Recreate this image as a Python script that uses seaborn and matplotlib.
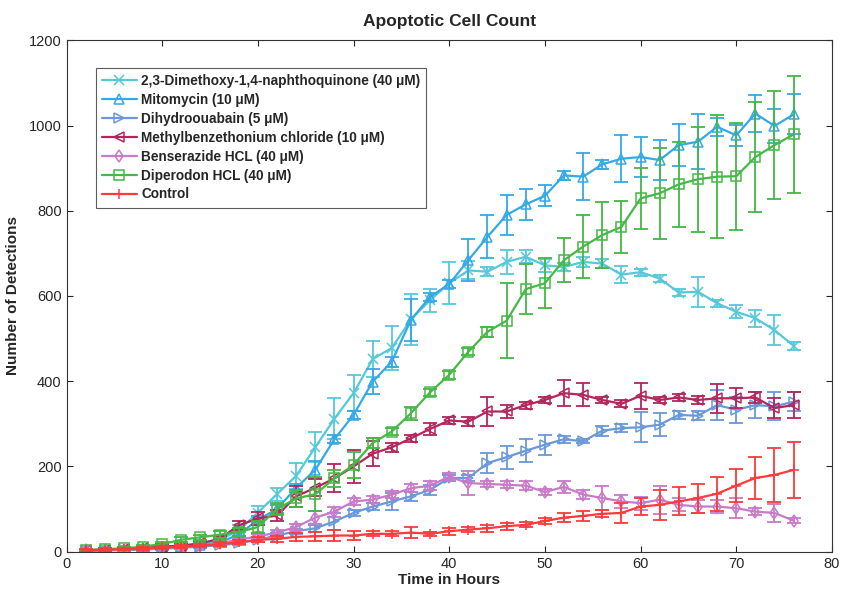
import matplotlib
matplotlib.use("Agg")
import matplotlib.pyplot as plt
import pandas as pd
import seaborn as sns

# Time points (hours)
hours = [2, 4, 6, 8, 10, 12, 14, 16, 18, 20, 22, 24, 26, 28, 30, 32, 34, 36, 38,
         40, 42, 44, 46, 48, 50, 52, 54, 56, 58, 60, 62, 64, 66, 68, 70, 72, 74, 76]

# Mean detections and error half-widths
dimethoxy = [3, 5, 6, 8, 12, 14, 18, 28, 50, 92, 135, 178, 245, 312, 372, 452, 478, 545, 590,
             630, 660, 657, 680, 692, 672, 668, 680, 676, 650, 656, 641, 608, 610, 583, 563, 548, 520, 483]
dimethoxy_err = [3, 3, 3, 3, 4, 5, 6, 8, 12, 15, 15, 30, 35, 48, 43, 43, 51, 60, 27,
                 49, 21, 10, 29, 15, 15, 10, 12, 10, 20, 8, 8, 8, 35, 8, 15, 20, 35, 10]

mitomycin = [2, 4, 5, 7, 10, 12, 15, 22, 40, 75, 100, 150, 192, 264, 321, 399, 446, 544, 598,
             628, 684, 739, 790, 815, 835, 883, 880, 909, 922, 926, 919, 954, 962, 997, 977, 1028, 999, 1026]
mitomycin_err = [3, 3, 3, 3, 3, 4, 5, 6, 6, 8, 10, 10, 20, 10, 10, 29, 12, 49, 10,
                 10, 49, 50, 48, 37, 25, 10, 55, 10, 55, 46, 47, 49, 65, 21, 25, 43, 40, 47]

dihydro = [2, 3, 4, 5, 7, 9, 12, 15, 20, 28, 38, 48, 55, 71, 91, 106, 118, 130, 145,
           173, 173, 208, 222, 237, 251, 264, 259, 284, 290, 292, 298, 321, 319, 344, 333, 344, 341, 352]
dihydro_err = [3, 3, 3, 3, 3, 3, 3, 4, 4, 5, 6, 6, 8, 20, 8, 8, 20, 10, 12,
               8, 8, 23, 27, 27, 23, 8, 5, 12, 10, 35, 27, 10, 10, 35, 31, 31, 33, 22]

methyl = [3, 5, 7, 9, 12, 14, 20, 30, 62, 78, 85, 130, 150, 172, 200, 230, 245, 266, 288,
          308, 305, 329, 329, 344, 356, 372, 368, 356, 347, 366, 356, 362, 356, 360, 360, 362, 337, 344]
methyl_err = [3, 3, 4, 4, 5, 5, 6, 8, 10, 15, 12, 25, 20, 33, 39, 29, 10, 8, 14,
              8, 10, 35, 16, 8, 8, 31, 27, 8, 8, 30, 8, 8, 10, 34, 23, 12, 23, 30]

benser = [3, 4, 5, 7, 9, 11, 14, 20, 28, 36, 45, 58, 80, 94, 118, 122, 134, 149, 155,
          176, 161, 159, 157, 155, 140, 152, 134, 126, 118, 114, 122, 110, 106, 106, 102, 94, 91, 73]
benser_err = [3, 3, 3, 3, 3, 3, 4, 4, 5, 6, 6, 8, 15, 12, 8, 8, 8, 10, 10,
              8, 29, 8, 8, 10, 8, 15, 10, 29, 15, 15, 33, 15, 15, 15, 23, 8, 21, 5]

diperodon = [4, 6, 8, 12, 18, 28, 34, 40, 46, 58, 100, 125, 135, 172, 204, 255, 282, 325, 374,
             415, 469, 516, 542, 616, 630, 684, 716, 743, 762, 829, 841, 862, 874, 880, 881, 926, 954, 979]
diperodon_err = [3, 3, 4, 4, 5, 6, 6, 8, 10, 15, 15, 20, 40, 20, 31, 12, 8, 15, 8,
                 10, 8, 12, 88, 59, 59, 51, 74, 78, 62, 72, 107, 100, 123, 145, 125, 129, 126, 138]

control = [3, 5, 6, 8, 10, 12, 14, 18, 22, 28, 30, 35, 36, 38, 38, 42, 42, 45, 42,
           48, 52, 55, 60, 63, 72, 80, 84, 89, 91, 106, 110, 118, 126, 136, 155, 173, 180, 192]
control_err = [3, 3, 3, 3, 4, 4, 4, 5, 5, 6, 8, 10, 10, 12, 10, 6, 6, 12, 5,
               8, 6, 8, 8, 6, 8, 11, 12, 8, 23, 20, 35, 33, 34, 40, 39, 50, 64, 66]

labels = [
    "2,3-Dimethoxy-1,4-naphthoquinone (40 \u03bcM)",
    "Mitomycin (10 \u03bcM)",
    "Dihydroouabain (5 \u03bcM)",
    "Methylbenzethonium chloride (10 \u03bcM)",
    "Benserazide HCL (40 \u03bcM)",
    "Diperodon HCL (40 \u03bcM)",
    "Control",
]
means = [dimethoxy, mitomycin, dihydro, methyl, benser, diperodon, control]
errors = [dimethoxy_err, mitomycin_err, dihydro_err, methyl_err, benser_err, diperodon_err, control_err]
colors = ["#55C8DA", "#35A9E6", "#6A98DA", "#B3265C", "#C87AC8", "#45B845", "#FF3A3A"]
markers = ["x", "^", ">", "<", "d", "s", "+"]

sns.set_style("white")
plt.rcParams["font.family"] = ["Liberation Sans", "DejaVu Sans"]

fig = plt.figure(figsize=(8.42, 6.01), dpi=100)
ax = fig.add_axes([0.079, 0.082, 0.909, 0.851])


def spread(v):
    return (v.min(), v.max())


for name, m, e, c, mk in zip(labels, means, errors, colors, markers):
    # two observations per time point so seaborn draws the given error bars
    df = pd.DataFrame({
        "t": hours + hours,
        "v": [a - b for a, b in zip(m, e)] + [a + b for a, b in zip(m, e)],
    })
    sns.lineplot(data=df, x="t", y="v", estimator="mean", errorbar=spread,
                 err_style="bars", err_kws={"capsize": 5, "elinewidth": 1.3, "capthick": 1.3},
                 color=c, marker=mk, markersize=6.5, markerfacecolor="none",
                 markeredgecolor=c, markeredgewidth=1.1, linewidth=1.6,
                 label=name, ax=ax)

ax.set_xlim(0, 80)
ax.set_ylim(0, 1200)
ax.set_xticks(range(0, 81, 10))
ax.set_yticks(range(0, 1201, 200))
ax.tick_params(direction="in", length=4, labelsize=10.5, top=True, right=True,
               bottom=True, left=True)
for s in ax.spines.values():
    s.set_color("#333333")
    s.set_linewidth(0.8)

ax.set_title("Apoptotic Cell Count", fontsize=12.5, fontweight="bold", pad=10)
ax.set_xlabel("Time in Hours", fontsize=11, fontweight="bold", labelpad=2)
ax.set_ylabel("Number of Detections", fontsize=11, fontweight="bold", labelpad=6)

leg = ax.legend(loc="upper left", bbox_to_anchor=(0.038, 0.946), borderaxespad=0,
                frameon=True, fancybox=False, edgecolor="#333333", handlelength=2.6,
                handletextpad=0.3, borderpad=0.45, labelspacing=0.36,
                prop={"weight": "bold", "size": 9.8})
leg.get_frame().set_linewidth(0.8)

fig.savefig("out.png", dpi=100)
